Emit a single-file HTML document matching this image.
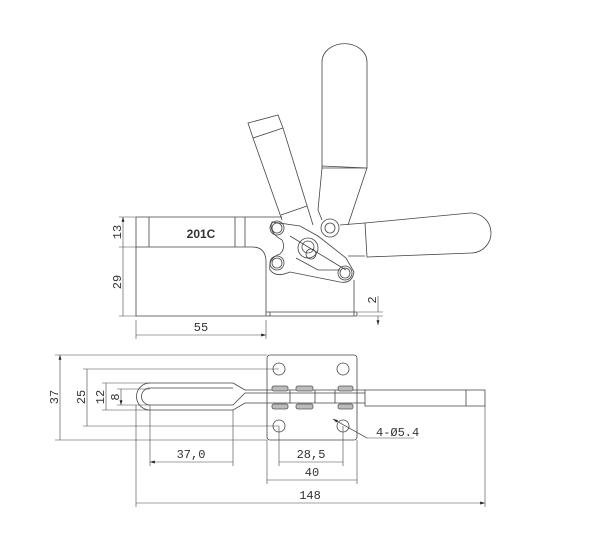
<!DOCTYPE html>
<html><head><style>body{margin:0;background:#fff}svg{display:block}text{font-family:"Liberation Mono",monospace;fill:#333}</style></head><body>
<svg width="600" height="552" viewBox="0 0 600 552" xmlns="http://www.w3.org/2000/svg">
<defs><marker id="a" viewBox="0 0 10 6" refX="10" refY="3" markerWidth="8" markerHeight="5" orient="auto-start-reverse"><path d="M0,0L10,3L0,6z" fill="#222"/></marker></defs>
<g fill="none" stroke="#444" stroke-width="0.8">
<path d="M136,217H282M136,217V316H357M136,247H252Q266,247 266,262V316"/>
<path d="M149,217V247M235,217V247M245,217V247"/>
<path d="M266,312H357V316M270,312V316M354,280V316"/>
<path d="M272,222Q268,232 282,240Q286,248 280,254Q268,258 270,270Q276,278 290,272L340,282Q352,284 354,272L346,258L318,236L300,226Z"/>
<path d="M290,236L346,270M296,258L318,270L340,270"/>
<circle cx="277" cy="228" r="7"/><circle cx="277" cy="228" r="5"/>
<circle cx="277" cy="263" r="7"/><circle cx="277" cy="263" r="5"/>
<circle cx="345" cy="273" r="7"/><circle cx="345" cy="273" r="5"/>
<circle cx="330" cy="228" r="9"/><circle cx="330" cy="228" r="5"/>
<circle cx="308" cy="248" r="10"/><circle cx="308" cy="247" r="6"/><circle cx="311" cy="254" r="5"/>
<path d="M322,168L318,210L322,220M367,168L348,225"/>
<path d="M322,168V62A22,18 0 0 1 367,62V168Z"/>
<path d="M322,166L367,168"/>
<path d="M248,123L278,115L283,128L253,138Z"/>
<path d="M253,138L282,220M283,128L313,225M281,215L307,206"/>
<path d="M340,225L365,223M348,256L365,256"/>
<path d="M365,223L470,213A20,20 0 0 1 472,253L367,257Z"/>
<rect x="267" y="355" width="90" height="85" rx="3"/>
<circle cx="279" cy="369" r="6"/><circle cx="343" cy="369" r="6"/><circle cx="279" cy="426" r="6"/><circle cx="343" cy="426" r="6"/>
<path d="M233,383H150A13,13 0 0 0 150,410H233L245,403H365M233,388H150A8,8 0 0 0 150,405H233L245,393H365M233,383L245,390H365"/>
<path d="M365,390H485V406H365Z M466,390V406 M290,390V403 M315,390V403 M335,390V403"/>
<g fill="#bbb" stroke="#555"><rect x="272" y="386" width="16" height="5" rx="2"/><rect x="296" y="386" width="17" height="5" rx="2"/><rect x="338" y="386" width="15" height="5" rx="2"/><rect x="272" y="404" width="16" height="5" rx="2"/><rect x="296" y="404" width="17" height="5" rx="2"/><rect x="338" y="404" width="15" height="5" rx="2"/></g>
</g>
<g fill="none" stroke="#444" stroke-width="0.6">
<path d="M119,217H136M119,247H136M119,316H136M136,320V339M266,320V339M358,312H383M358,316H383"/>
<path d="M123,217V247M123,247V316M136,335H266" marker-start="url(#a)" marker-end="url(#a)"/>
<path d="M378,296V312M378,316V325" marker-end="url(#a)"/>
<path d="M55,355H267M55,440H267M83,369H279M83,426H279M102,383H150M102,410H150M117,389H150M117,405H150"/>
<path d="M60,355V440M87,369V426M106,383V410M121,389V405" marker-start="url(#a)" marker-end="url(#a)"/>
<path d="M150,405V466M233,410V466M279,426V466M343,426V466M267,440V484M357,440V484M136,405V507M485,406V507"/>
<path d="M150,462H233M279,462H343M267,480H357M136,503H485" marker-start="url(#a)" marker-end="url(#a)"/>
<path d="M414,438H367L333,419"/><path d="M367,438L333,419" marker-end="url(#a)"/>
</g>
<g font-size="12">
<text x="201" y="238" font-size="12" text-anchor="middle" fill="#555" font-family="Liberation Sans" font-weight="bold" style="font-family:'Liberation Sans',sans-serif">201C</text>
<text transform="translate(121,232) rotate(-90)" text-anchor="middle">13</text>
<text transform="translate(121,282) rotate(-90)" text-anchor="middle">29</text>
<text x="201" y="331" text-anchor="middle">55</text>
<text transform="translate(376,300) rotate(-90)" text-anchor="middle">2</text>
<text transform="translate(58,397) rotate(-90)" text-anchor="middle">37</text>
<text transform="translate(85,397) rotate(-90)" text-anchor="middle">25</text>
<text transform="translate(104,397) rotate(-90)" text-anchor="middle">12</text>
<text transform="translate(119,397) rotate(-90)" text-anchor="middle">8</text>
<text x="191" y="458" text-anchor="middle">37,0</text>
<text x="311" y="458" text-anchor="middle">28,5</text>
<text x="312" y="476" text-anchor="middle">40</text>
<text x="310" y="499" text-anchor="middle">148</text>
<text x="376" y="436">4-Ø5.4</text>
</g>
</svg>
</body></html>
